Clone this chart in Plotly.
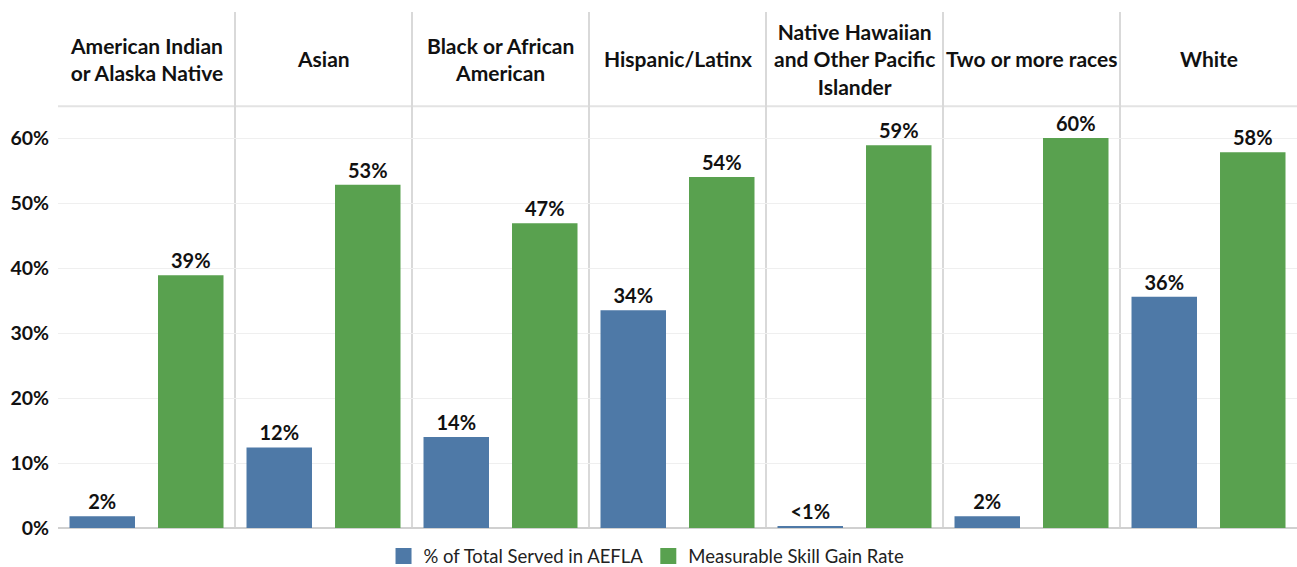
import plotly.graph_objects as go

categories = ["American Indian<br>or Alaska Native", "Asian", "Black or African<br>American",
              "Hispanic/Latinx", "Native Hawaiian<br>and Other Pacific<br>Islander",
              "Two or more races", "White"]
served = [1.8, 12.4, 14.0, 33.5, 0.3, 1.8, 35.6]
served_labels = ["2%", "12%", "14%", "34%", "<1%", "2%", "36%"]
msg = [38.9, 52.8, 46.9, 54.0, 58.9, 60.0, 57.8]
msg_labels = ["39%", "53%", "47%", "54%", "59%", "60%", "58%"]
ytick_vals = [0, 10, 20, 30, 40, 50, 60]
ytick_text = ["0%", "10%", "20%", "30%", "40%", "50%", "60%"]
series_names = ["% of Total Served in AEFLA", "Measurable Skill Gain Rate"]

FONT = "Lato"
BLUE = "#4e79a7"
GREEN = "#59a14f"
TXT = "#111111"

x = list(range(len(categories)))

fig = go.Figure()
for vals, labels, color in [(served, served_labels, BLUE), (msg, msg_labels, GREEN)]:
    fig.add_trace(go.Bar(x=x, y=vals, showlegend=False,
                         marker=dict(color=color, line=dict(width=0)),
                         text=labels, textposition="outside", cliponaxis=False,
                         textfont=dict(family=FONT, size=20, color=TXT, weight="bold")))

# legend entries with large square swatches
for name, color in zip(series_names, [BLUE, GREEN]):
    fig.add_trace(go.Scatter(x=[None], y=[None], mode="markers", name=name,
                             marker=dict(symbol="square", size=22, color=color)))

header_y = 72.2
header_line = 64.9
for i, c in enumerate(categories):
    fig.add_annotation(x=i, y=header_y, xref="x", yref="y", text=c, showarrow=False,
                       font=dict(family=FONT, size=21, color=TXT, weight="bold"),
                       align="center", yanchor="middle")

fig.add_shape(type="line", xref="paper", yref="y", x0=0, x1=1, y0=header_line, y1=header_line,
              line=dict(color="#e3e3e3", width=2), layer="below")

fig.update_layout(
    width=1297, height=567,
    margin=dict(l=58, r=0, t=12, b=39, autoexpand=False),
    paper_bgcolor="white", plot_bgcolor="white",
    barmode="group", bargap=0, bargroupgap=0.26,
    font=dict(family=FONT, color=TXT),
    xaxis=dict(type="category", tickson="boundaries", showgrid=True, gridcolor="#d9d9d9",
               gridwidth=1.5, showticklabels=False, ticks="", range=[-0.5, 6.5],
               showline=False, zeroline=False, automargin=False),
    yaxis=dict(range=[0, 79.4], tickvals=ytick_vals, ticktext=ytick_text,
               showgrid=True, gridcolor="#efefef", gridwidth=1,
               zeroline=True, zerolinecolor="#d0d0d0", zerolinewidth=2,
               tickfont=dict(family=FONT, size=19.5, color=TXT, weight="bold"),
               ticklabelstandoff=8, ticks="", automargin=False),
    legend=dict(orientation="h", x=0.475, xanchor="center", y=-0.055, yanchor="middle",
                font=dict(family=FONT, size=18.5, color="#222222"),
                traceorder="normal", itemsizing="trace"),
    showlegend=True,
)

fig.write_html("out.html", config={"displayModeBar": False},
               post_script="document.body.style.margin='0';")
